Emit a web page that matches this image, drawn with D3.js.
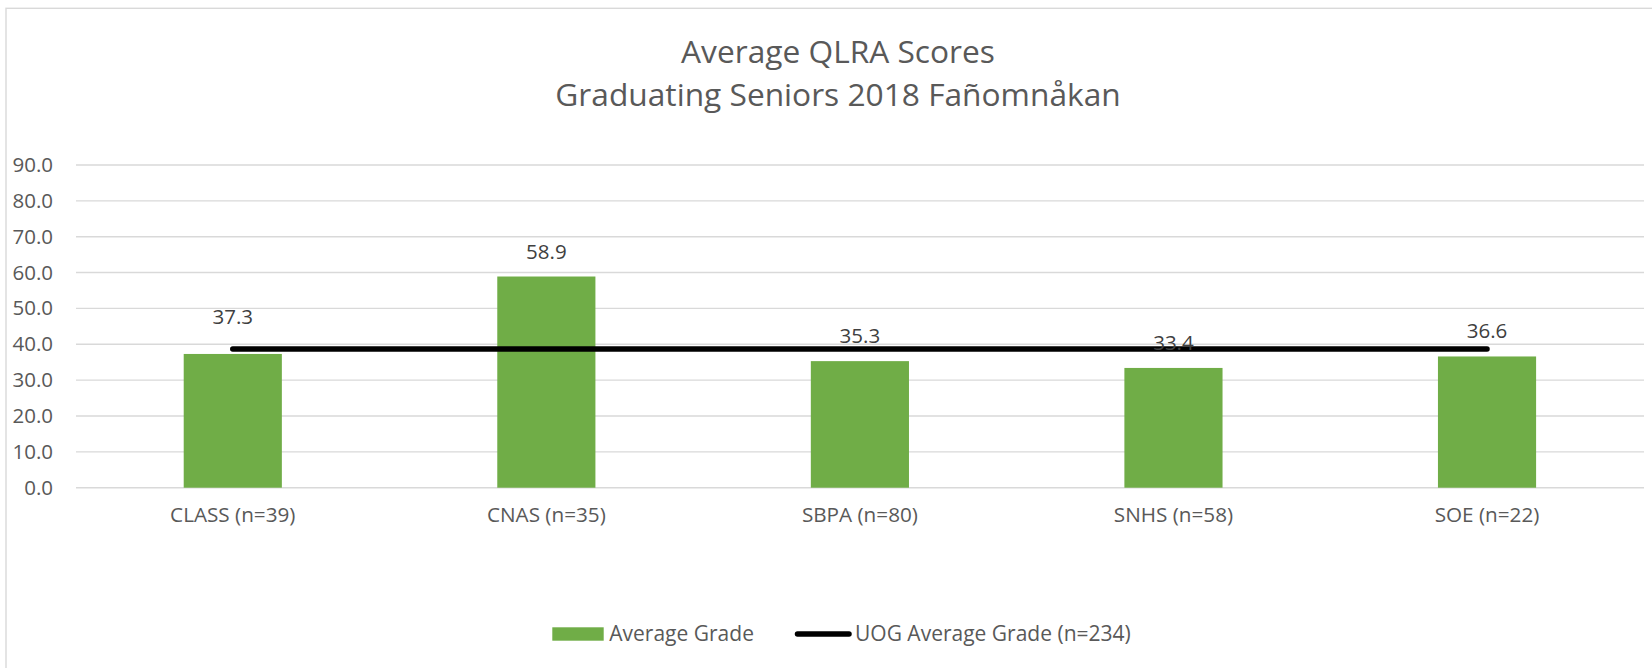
<!DOCTYPE html>
<html>
<head>
<meta charset="utf-8">
<script src="https://cdnjs.cloudflare.com/ajax/libs/d3/7.8.5/d3.min.js"></script>
<style>
    html, body { margin: 0; padding: 0; background: #fff; }
    svg text { font-family: "Open Sans", "Noto Sans", sans-serif; }
</style>
</head>
<body>
<div id="chart"></div>
<script>
// values
var categories = ["CLASS (n=39)", "CNAS (n=35)", "SBPA (n=80)", "SNHS (n=58)", "SOE (n=22)"];
var avgGrade = [37.3, 58.9, 35.3, 33.4, 36.6];
var uogAvg = [38.7, 38.7, 38.7, 38.7, 38.7];
var yTicks = [0, 10, 20, 30, 40, 50, 60, 70, 80, 90];
var titleLines = ["Average QLRA Scores", "Graduating Seniors 2018 Fañomnåkan"];
var seriesNames = ["Average Grade", "UOG Average Grade (n=234)"];

var width = 1652, height = 668;
var margin = {top: 165, right: 8, bottom: 181, left: 76};
var innerW = width - margin.left - margin.right;
var innerH = height - margin.top - margin.bottom;

var green = "#70ad47", grid = "#d9d9d9", axisText = "#595959", labelText = "#404040";

// the CLASS label sits higher than the others in the original
var labelLift = {"CLASS (n=39)": 12};

var svg = d3.select("#chart").append("svg")
    .attr("width", width)
    .attr("height", height);

// chart frame, runs off the right and bottom edge
svg.append("rect")
    .attr("x", 6)
    .attr("y", 8.3)
    .attr("width", width + 40)
    .attr("height", height + 40)
    .attr("fill", "none")
    .attr("stroke", grid)
    .attr("stroke-width", 1.4);

var title = svg.append("text")
    .attr("x", 838)
    .attr("text-anchor", "middle")
    .attr("fill", axisText)
    .style("font-size", "31.7px");

title.selectAll("tspan")
    .data(titleLines)
  .enter().append("tspan")
    .attr("x", 838)
    .attr("y", function(d, i) { return 63 + i * 43; })
    .text(function(d) { return d; });

var g = svg.append("g")
    .attr("transform", "translate(" + margin.left + "," + margin.top + ")");

var x = d3.scaleBand()
    .domain(categories)
    .range([0, innerW - 0.2])
    .paddingInner(0.687)
    .paddingOuter(0.3435);

var y = d3.scaleLinear()
    .domain([0, 90])
    .range([innerH + 0.7, 0]);

// gridlines
g.append("g")
    .attr("class", "grid")
  .selectAll("line")
    .data(yTicks)
  .enter().append("line")
    .attr("x1", 0)
    .attr("x2", innerW)
    .attr("y1", function(d) { return y(d); })
    .attr("y2", function(d) { return y(d); })
    .attr("stroke", grid)
    .attr("stroke-width", 1.4);

var yAxis = d3.axisLeft(y)
    .tickValues(yTicks)
    .tickSize(0)
    .tickPadding(23)
    .tickFormat(d3.format(".1f"));

g.append("g")
    .attr("class", "y axis")
    .call(yAxis)
    .call(function(a) { a.select(".domain").remove(); })
    .selectAll("text")
    .attr("fill", axisText)
    .style("font-size", "20.5px");

var xAxis = d3.axisBottom(x)
    .tickSize(0)
    .tickPadding(20);

g.append("g")
    .attr("class", "x axis")
    .attr("transform", "translate(0," + y(0) + ")")
    .call(xAxis)
    .call(function(a) { a.select(".domain").remove(); })
    .selectAll("text")
    .attr("fill", axisText)
    .style("font-size", "20.7px");

// bars
g.selectAll("rect.bar")
    .data(avgGrade)
  .enter().append("rect")
    .attr("class", "bar")
    .attr("x", function(d, i) { return x(categories[i]); })
    .attr("y", function(d) { return y(d); })
    .attr("width", x.bandwidth())
    .attr("height", function(d) { return y(0) - y(d); })
    .attr("fill", green);

// UOG average line
var line = d3.line()
    .x(function(d, i) { return x(categories[i]) + x.bandwidth() / 2; })
    .y(function(d) { return y(d); });

g.append("path")
    .datum(uogAvg)
    .attr("class", "line")
    .attr("d", line)
    .attr("fill", "none")
    .attr("stroke", "#000")
    .attr("stroke-width", 5.5)
    .attr("stroke-linecap", "round");

// data labels
g.selectAll("text.value")
    .data(avgGrade)
  .enter().append("text")
    .attr("class", "value")
    .attr("x", function(d, i) { return x(categories[i]) + x.bandwidth() / 2; })
    .attr("y", function(d, i) { return y(d) - 18 - (labelLift[categories[i]] || 0); })
    .attr("text-anchor", "middle")
    .attr("fill", labelText)
    .style("font-size", "20.5px")
    .text(function(d) { return d3.format(".1f")(d); });

// legend
var legend = svg.append("g")
    .attr("class", "legend");

legend.append("rect")
    .attr("x", 552.3)
    .attr("y", 627.3)
    .attr("width", 51.4)
    .attr("height", 13.4)
    .attr("fill", green);

legend.append("text")
    .attr("x", 609.3)
    .attr("y", 641.3)
    .attr("fill", axisText)
    .style("font-size", "21px")
    .text(seriesNames[0]);

legend.append("line")
    .attr("x1", 797.5)
    .attr("x2", 849)
    .attr("y1", 634)
    .attr("y2", 634)
    .attr("stroke", "#000")
    .attr("stroke-width", 5.5)
    .attr("stroke-linecap", "round");

legend.append("text")
    .attr("x", 855)
    .attr("y", 641.3)
    .attr("fill", axisText)
    .style("font-size", "21px")
    .text(seriesNames[1]);
</script>
</body>
</html>
